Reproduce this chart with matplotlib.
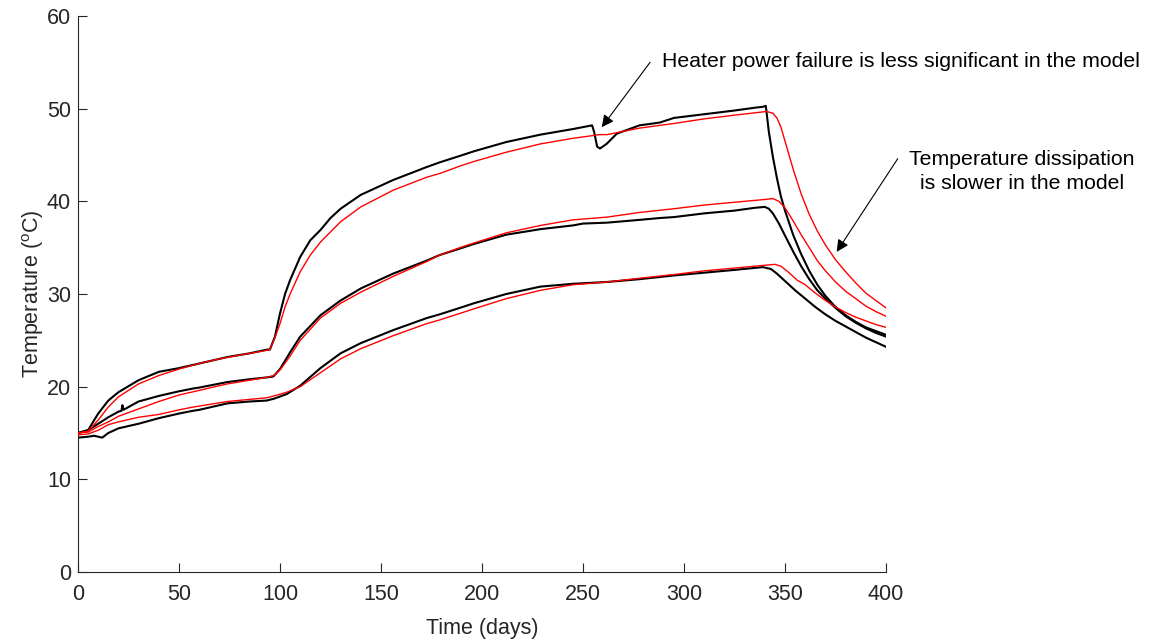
import matplotlib
matplotlib.use("Agg")
import matplotlib.pyplot as plt

plt.rcParams.update({
    "font.family": ["Liberation Sans", "DejaVu Sans"],
    "mathtext.fontset": "custom",
    "mathtext.rm": "Liberation Sans",
    "font.size": 15,
})

B1_DAY = [0, 5, 10, 15, 20, 30, 40, 50, 60, 74, 85, 93.5, 95, 97.5, 100, 102.5, 105,
          110, 115, 120, 125, 130, 140, 156, 172.6, 179, 189, 196, 212, 229, 245, 254.5,
          255.5, 257, 258.4, 261.7, 266.7, 278, 288, 295, 310, 325, 335, 339, 340.5,
          342, 344, 346, 348, 350, 354, 358, 362, 366, 370, 375, 380, 385, 390, 395, 400]
B1_T = [15.0, 15.3, 17.1, 18.5, 19.4, 20.7, 21.6, 22.0, 22.5, 23.2, 23.6, 24.0, 24.0,
        25.4, 27.9, 30.0, 31.5, 34.0, 35.8, 36.9, 38.2, 39.2, 40.7, 42.3, 43.7, 44.2, 44.9,
        45.4, 46.4, 47.2, 47.8, 48.2, 47.5, 45.9, 45.7, 46.2, 47.3, 48.2, 48.5, 49.0,
        49.4, 49.8, 50.1, 50.2, 50.3, 47.5, 44.8, 42.5, 40.5, 39.0, 36.4, 34.3, 32.5,
        31.0, 29.8, 28.6, 27.7, 27.0, 26.4, 26.0, 25.6]

R1_DAY = [0, 5, 10, 15, 20, 30, 40, 50, 60, 70, 80, 93, 95, 97.5, 100, 102.5, 105,
          110, 115, 120, 130, 140, 156, 172.6, 179, 189, 196, 212, 229, 245, 255,
          258, 262, 278, 288, 295, 310, 325, 341, 344, 346, 348, 350, 354, 358, 362,
          366, 370, 375, 380, 385, 390, 395, 400]
R1_T = [15.0, 15.2, 16.4, 17.8, 18.9, 20.3, 21.2, 21.9, 22.5, 23.0, 23.4, 23.9, 24.0,
        25.3, 26.8, 28.6, 30.0, 32.4, 34.2, 35.6, 37.8, 39.4, 41.2, 42.6, 43.0, 43.8,
        44.3, 45.3, 46.2, 46.8, 47.1, 47.2, 47.2, 47.9, 48.2, 48.4, 48.9, 49.3, 49.7,
        49.5, 49.0, 48.0, 46.5, 43.5, 40.8, 38.6, 36.8, 35.3, 33.7, 32.4, 31.2, 30.1,
        29.3, 28.5]

B2_DAY = [0, 5, 10, 15, 20, 21.5, 22, 22.5, 30, 40, 50, 57, 60, 74, 85, 93.4, 96.7,
          100, 105, 110, 120, 130, 140, 156, 172.6, 179, 189, 196, 212, 229, 245, 250,
          262, 278, 288, 295, 310, 325, 335, 340, 342, 344, 347, 350, 354, 358, 362,
          366, 370, 375, 380, 385, 390, 395, 400]
B2_T = [15.0, 15.3, 16.0, 16.7, 17.3, 17.4, 18.0, 17.5, 18.4, 19.0, 19.5, 19.8, 19.9,
        20.5, 20.8, 21.0, 21.1, 21.9, 23.7, 25.4, 27.7, 29.3, 30.6, 32.2, 33.6, 34.2,
        34.9, 35.4, 36.4, 37.0, 37.4, 37.6, 37.7, 38.0, 38.2, 38.3, 38.7, 39.0, 39.3,
        39.4, 39.2, 38.7, 37.6, 36.3, 34.6, 33.0, 31.6, 30.4, 29.5, 28.5, 27.6, 26.9,
        26.3, 25.8, 25.4]

R2_DAY = [0, 5, 10, 15, 20, 30, 40, 50, 60, 74, 85, 93.4, 97, 100, 105, 110, 120,
          130, 140, 156, 172.6, 179, 189, 196, 212, 229, 245, 262, 278, 295, 310, 325,
          340, 344, 347, 350, 354, 358, 362, 366, 370, 375, 380, 385, 390, 395, 400]
R2_T = [15.0, 15.1, 15.7, 16.2, 16.8, 17.6, 18.4, 19.1, 19.6, 20.3, 20.7, 21.0, 21.2,
        21.8, 23.3, 25.0, 27.4, 29.0, 30.2, 31.9, 33.5, 34.2, 35.0, 35.5, 36.6, 37.4,
        38.0, 38.3, 38.8, 39.2, 39.6, 39.9, 40.2, 40.3, 40.0, 39.3, 37.9, 36.4, 35.0,
        33.6, 32.5, 31.3, 30.3, 29.5, 28.7, 28.1, 27.6]

B3_DAY = [0, 5, 8, 10, 12, 15, 20, 30, 40, 50, 57, 60, 74, 85, 93.4, 97, 103.3, 110, 120,
          130, 140, 156, 172.6, 179, 189, 196, 212, 229, 245, 262, 278, 295, 310, 325,
          339, 343, 346, 350, 355, 360, 365, 370, 375, 380, 385, 390, 395, 400]
B3_T = [14.5, 14.6, 14.7, 14.6, 14.5, 15.0, 15.5, 16.0, 16.6, 17.1, 17.4, 17.5, 18.2, 18.4,
        18.5, 18.7, 19.2, 20.1, 22.0, 23.6, 24.7, 26.1, 27.4, 27.8, 28.5, 29.0, 30.0,
        30.8, 31.1, 31.3, 31.6, 32.0, 32.3, 32.6, 32.9, 32.7, 32.2, 31.4, 30.4, 29.5,
        28.6, 27.8, 27.1, 26.5, 25.9, 25.3, 24.8, 24.3]

R3_DAY = [0, 5, 10, 15, 20, 30, 40, 50, 57, 74, 93.4, 97, 103.3, 110, 122, 130, 140,
          156, 172.6, 179, 189, 196, 212, 229, 245, 262, 278, 295, 310, 325, 340, 345,
          348, 352, 356, 360, 365, 370, 375, 380, 385, 390, 395, 400]
R3_T = [14.8, 14.9, 15.3, 15.9, 16.2, 16.7, 17.0, 17.5, 17.8, 18.4, 18.8, 19.0, 19.4,
        20.0, 21.8, 23.0, 24.1, 25.5, 26.8, 27.2, 27.9, 28.4, 29.5, 30.4, 31.0, 31.3,
        31.7, 32.1, 32.5, 32.8, 33.1, 33.2, 33.0, 32.3, 31.5, 31.0, 30.1, 29.3, 28.6,
        28.0, 27.5, 27.1, 26.7, 26.4]

fig = plt.figure(figsize=(11.55, 6.44), dpi=100)
ax = fig.add_axes([78 / 1155, 1 - 572 / 644, 808 / 1155, 556 / 644])

for d, t in [(B1_DAY, B1_T), (B2_DAY, B2_T), (B3_DAY, B3_T)]:
    ax.plot(d, t, color="black", lw=1.5, zorder=2, solid_joinstyle="round")
for d, t in [(R1_DAY, R1_T), (R2_DAY, R2_T), (R3_DAY, R3_T)]:
    ax.plot(d, t, color="red", lw=1.0, zorder=3, solid_joinstyle="round")

ax.set_xlim(0, 400)
ax.set_ylim(0, 60)
ax.set_xticks(range(0, 401, 50))
ax.set_yticks(range(0, 61, 10))
ax.spines["top"].set_visible(False)
ax.spines["right"].set_visible(False)
for s in ("left", "bottom"):
    ax.spines[s].set_color("#262626")
    ax.spines[s].set_linewidth(0.8)
ax.tick_params(direction="in", length=6.5, width=0.8, colors="#262626",
               labelsize=15.5)
ax.tick_params(axis="x", pad=9)
ax.tick_params(axis="y", pad=5)
ax.set_xlabel("Time (days)", fontsize=15.5, color="#262626", labelpad=9)
ax.set_ylabel("Temperature ($^{\\rm o}$C)", fontsize=15.5, color="#262626", labelpad=1)

# annotations
arrow = dict(arrowstyle="-|>", color="black", lw=0.8, mutation_scale=18,
             shrinkA=0, shrinkB=0)
ax.annotate("", xy=(259.3, 48.0), xytext=(283.2, 55.0), arrowprops=arrow,
            annotation_clip=False)
ax.text(289.3, 55.06, "Heater power failure is less significant in the model",
        fontsize=15.3, ha="left", va="center", clip_on=False)

ax.annotate("", xy=(375.6, 34.55), xytext=(405.8, 44.6), arrowprops=arrow,
            annotation_clip=False)
ax.text(467.2, 43.2, "Temperature dissipation\nis slower in the model",
        fontsize=15.3, ha="center", va="center", linespacing=1.3, clip_on=False)

fig.savefig("out.png", dpi=100)
